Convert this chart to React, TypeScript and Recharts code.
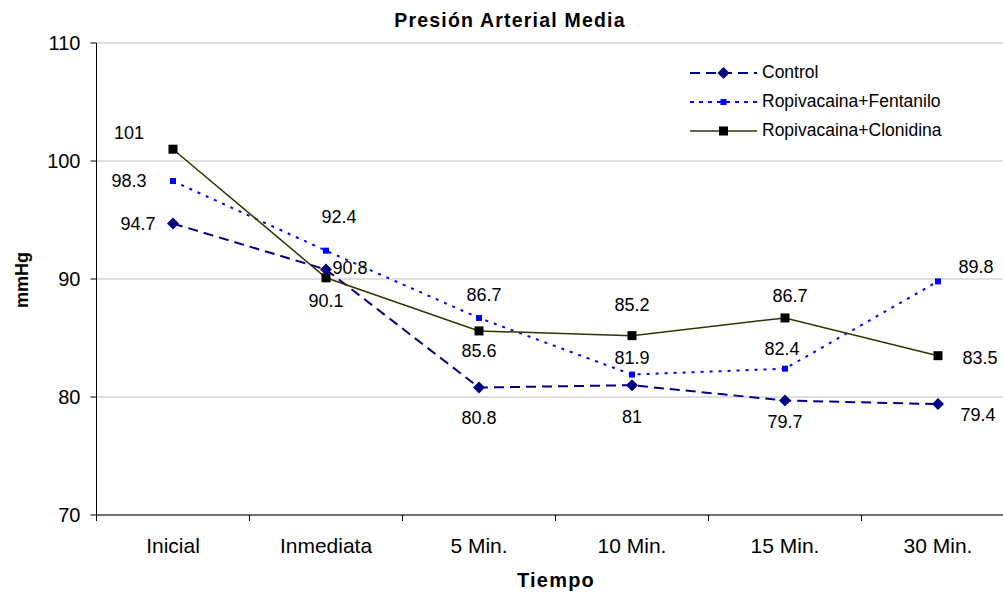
import React from 'react';
import {
  LineChart,
  Line,
  XAxis,
  YAxis,
  CartesianGrid,
  Legend,
  LabelList,
  Customized
} from 'recharts';

const categories = ['Inicial', 'Inmediata', '5 Min.', '10 Min.', '15 Min.', '30 Min.'];
const control = [94.7, 90.8, 80.8, 81, 79.7, 79.4];
const fentanilo = [98.3, 92.4, 86.7, 81.9, 82.4, 89.8];
const clonidina = [101, 90.1, 85.6, 85.2, 86.7, 83.5];
const yTicks = [70, 80, 90, 100, 110];

const data = categories.map((c, i) => ({
  tiempo: c,
  control: control[i],
  fentanilo: fentanilo[i],
  clonidina: clonidina[i]
}));

const FONT = "Arial, 'Liberation Sans', sans-serif";
const CHART_W = 1020;
const MARGIN = { top: 43, right: 5.5, bottom: 51, left: 36.5 };
const Y_W = 60;
const HALF_BAND = (CHART_W - MARGIN.left - MARGIN.right - Y_W) / categories.length / 2;

// label offsets from each point (dx, dy), per series
const controlPos = [[-35, 0], [24, -2], [0, 30], [0, 32], [0, 21], [40, 11]];
const fentaniloPos = [[-44, 0], [13, -34], [5, -23], [0, -17], [-3, -20], [38, -14]];
const clonidinaPos = [[-44, -16], [0, 23], [0, 20], [0, -31], [5, -22], [42, 2]];

const makeLabel = (pos: number[][]) => (props: any) => {
  const { x, y, value, index } = props;
  const [dx, dy] = pos[index] || [0, 0];
  return (
    <text
      x={x + dx}
      y={y + dy}
      textAnchor="middle"
      dominantBaseline="central"
      fontSize={18}
      fontFamily={FONT}
      fill="#000"
    >
      {value}
    </text>
  );
};

const Diamond = ({ cx, cy, r, fill }: any) => (
  <path d={`M${cx},${cy - r}L${cx + r},${cy}L${cx},${cy + r}L${cx - r},${cy}Z`} fill={fill} />
);

const Square = ({ cx, cy, s, fill }: any) => (
  <rect x={cx - s / 2} y={cy - s / 2} width={s} height={s} fill={fill} />
);

const CategoryTick = (props: any) => {
  const { x, y, payload, index } = props;
  return (
    <g>
      <line x1={x - HALF_BAND} y1={y} x2={x - HALF_BAND} y2={y + 6} stroke="#000" />
      {index === categories.length - 1 && (
        <line x1={x + HALF_BAND} y1={y} x2={x + HALF_BAND} y2={y + 6} stroke="#000" />
      )}
      <text x={x} y={y + 38} textAnchor="middle" fontSize={21} fontFamily={FONT} fill="#000">
        {payload.value}
      </text>
    </g>
  );
};

const legendItems = [
  { name: 'Control', color: '#000080', dash: '10 6', width: 2, marker: 'diamond' },
  { name: 'Ropivacaina+Fentanilo', color: '#0000ff', dash: '4 5', width: 2, marker: 'small' },
  { name: 'Ropivacaina+Clonidina', color: '#333300', dash: undefined, width: 1.5, marker: 'square' }
];

const renderLegend = () => (
  <div style={{ fontFamily: FONT, fontSize: 17.5, color: '#000' }}>
    {legendItems.map((it) => (
      <div key={it.name} style={{ display: 'flex', alignItems: 'center', height: 29 }}>
        <svg width={72} height={20}>
          <line x1={2} y1={10} x2={69} y2={10} stroke={it.color} strokeWidth={it.width} strokeDasharray={it.dash} />
          {it.marker === 'diamond' && <Diamond cx={35.5} cy={10} r={6} fill="#000080" />}
          {it.marker === 'small' && <Square cx={35.5} cy={10} s={6} fill="#0000ff" />}
          {it.marker === 'square' && <Square cx={35.5} cy={10} s={9} fill="#000" />}
        </svg>
        <span style={{ marginLeft: 2 }}>{it.name}</span>
      </div>
    ))}
  </div>
);

const Titles = () => (
  <g fontFamily={FONT} fontWeight="bold" fill="#000">
    <text x={510} y={27} textAnchor="middle" fontSize={19.5} letterSpacing={1.2}>
      Presión Arterial Media
    </text>
    <text x={556} y={587} textAnchor="middle" fontSize={20} letterSpacing={1.2}>
      Tiempo
    </text>
    <text x={28} y={280} textAnchor="middle" fontSize={18} transform="rotate(-90 28 280)">
      mmHg
    </text>
  </g>
);

export default function App() {
  return (
    <div
      style={{
        position: 'absolute',
        left: 0,
        top: 0,
        width: 1003,
        height: 596,
        overflow: 'hidden',
        background: '#fff'
      }}
    >
      <LineChart width={CHART_W} height={596} data={data} margin={MARGIN}>
        <CartesianGrid vertical={false} stroke="#c0c0c0" />
        <XAxis
          dataKey="tiempo"
          padding={{ left: HALF_BAND, right: HALF_BAND }}
          height={30}
          stroke="#000"
          tickLine={false}
          tickSize={0}
          tickMargin={0}
          tick={<CategoryTick />}
          interval={0}
        />
        <YAxis
          width={Y_W}
          domain={[70, 110]}
          ticks={yTicks}
          stroke="#000"
          tickSize={6}
          tickMargin={10}
          tick={{ fill: '#000', fontSize: 20, fontFamily: FONT }}
        />
        <Legend
          layout="vertical"
          align="center"
          verticalAlign="middle"
          content={renderLegend}
          wrapperStyle={{ top: 58, left: 688, width: 320 }}
        />
        <Line
          dataKey="control"
          name="Control"
          stroke="#000080"
          strokeWidth={2}
          strokeDasharray="10 6"
          isAnimationActive={false}
          dot={(p: any) => <Diamond key={`c${p.index}`} cx={p.cx} cy={p.cy} r={6} fill="#000080" />}
        >
          <LabelList dataKey="control" content={makeLabel(controlPos)} />
        </Line>
        <Line
          dataKey="fentanilo"
          name="Ropivacaina+Fentanilo"
          stroke="#0000ff"
          strokeWidth={2}
          strokeDasharray="3 6"
          isAnimationActive={false}
          dot={(p: any) => <Square key={`f${p.index}`} cx={p.cx} cy={p.cy} s={6} fill="#0000ff" />}
        >
          <LabelList dataKey="fentanilo" content={makeLabel(fentaniloPos)} />
        </Line>
        <Line
          dataKey="clonidina"
          name="Ropivacaina+Clonidina"
          stroke="#333300"
          strokeWidth={1.5}
          isAnimationActive={false}
          dot={(p: any) => <Square key={`k${p.index}`} cx={p.cx} cy={p.cy} s={9} fill="#000" />}
        >
          <LabelList dataKey="clonidina" content={makeLabel(clonidinaPos)} />
        </Line>
        <Customized component={Titles} />
      </LineChart>
    </div>
  );
}
